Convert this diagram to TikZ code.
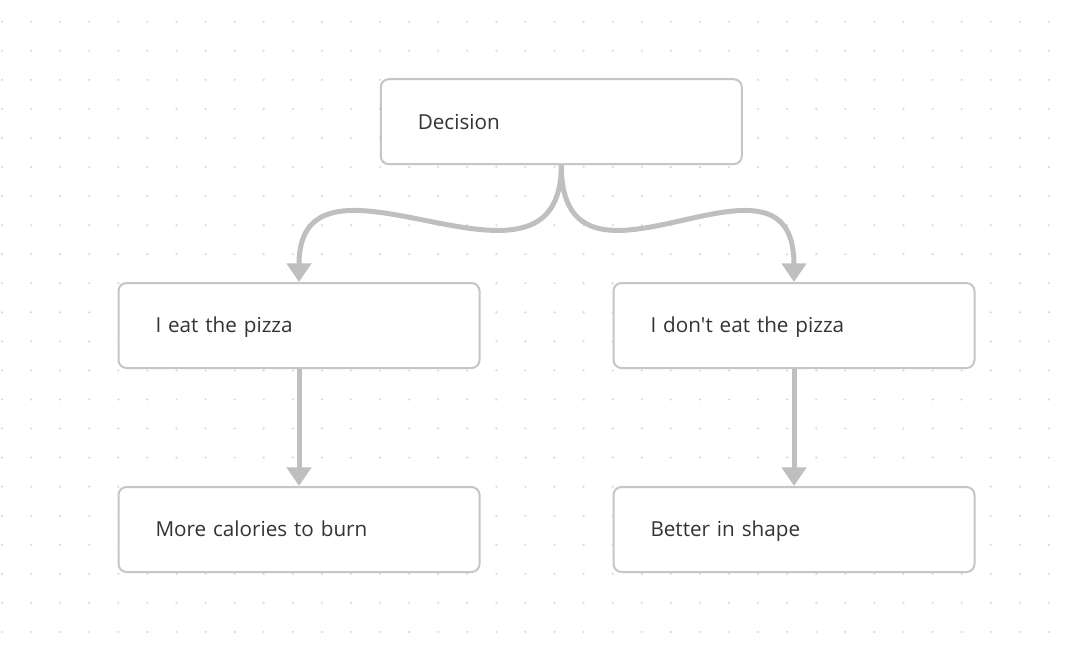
\documentclass[tikz,border=0pt]{standalone}
\usepackage{fontspec}
\setmainfont{Open Sans}
\usetikzlibrary{arrows.meta, positioning}
\definecolor{boxline}{HTML}{C6C6C6}
\definecolor{flowline}{HTML}{BFBFBF}
\definecolor{textgray}{HTML}{333333}
\definecolor{dotgray}{HTML}{D9D9D9}

\begin{document}
\begin{tikzpicture}[x=0.75pt, y=-0.75pt,
        box/.style={rectangle, draw=boxline, line width=1.5pt, rounded corners=6pt, fill=white, text=textgray, align=left, text width=215.25pt, inner xsep=27.75pt, inner ysep=0pt, text height=14.07pt, text depth=3pt, minimum height=63.75pt, font=\fontsize{15.5}{18}\selectfont},
        arrow/.style={-{Triangle[length=14pt, width=18pt]}, line width=3.75pt, flowline},
        node distance=87.75pt
        ]

        % Background
        \useasboundingbox [fill=white] (0,0) rectangle (1074,656);
        \foreach \i in {0,...,36}
            \foreach \j in {0,...,21}
                \fill [dotgray] (2+29.08*\i, 21.7+29.06*\j) circle (0.9pt);

        % Nodes
        \node (decision) [box] at (561.3,121.7) {Decision};
        \node (eat) [box] at (299,325.5) {I eat the pizza};
        \node (noeat) [box] at (794,325.5) {I don\textquotesingle t eat the pizza};
        \node (calories) [box, below=of eat] {More calories to burn};
        \node (inshape) [box, below=of noeat] {Better in shape};

        % Arrows
        \draw [arrow] (decision.south) .. controls +(0,160) and +(0,-160) .. (eat.north);
        \draw [arrow] (decision.south) .. controls +(0,160) and +(0,-160) .. (noeat.north);
        \draw [arrow] (eat) -- (calories);
        \draw [arrow] (noeat) -- (inshape);

    \end{tikzpicture}
\end{document}
